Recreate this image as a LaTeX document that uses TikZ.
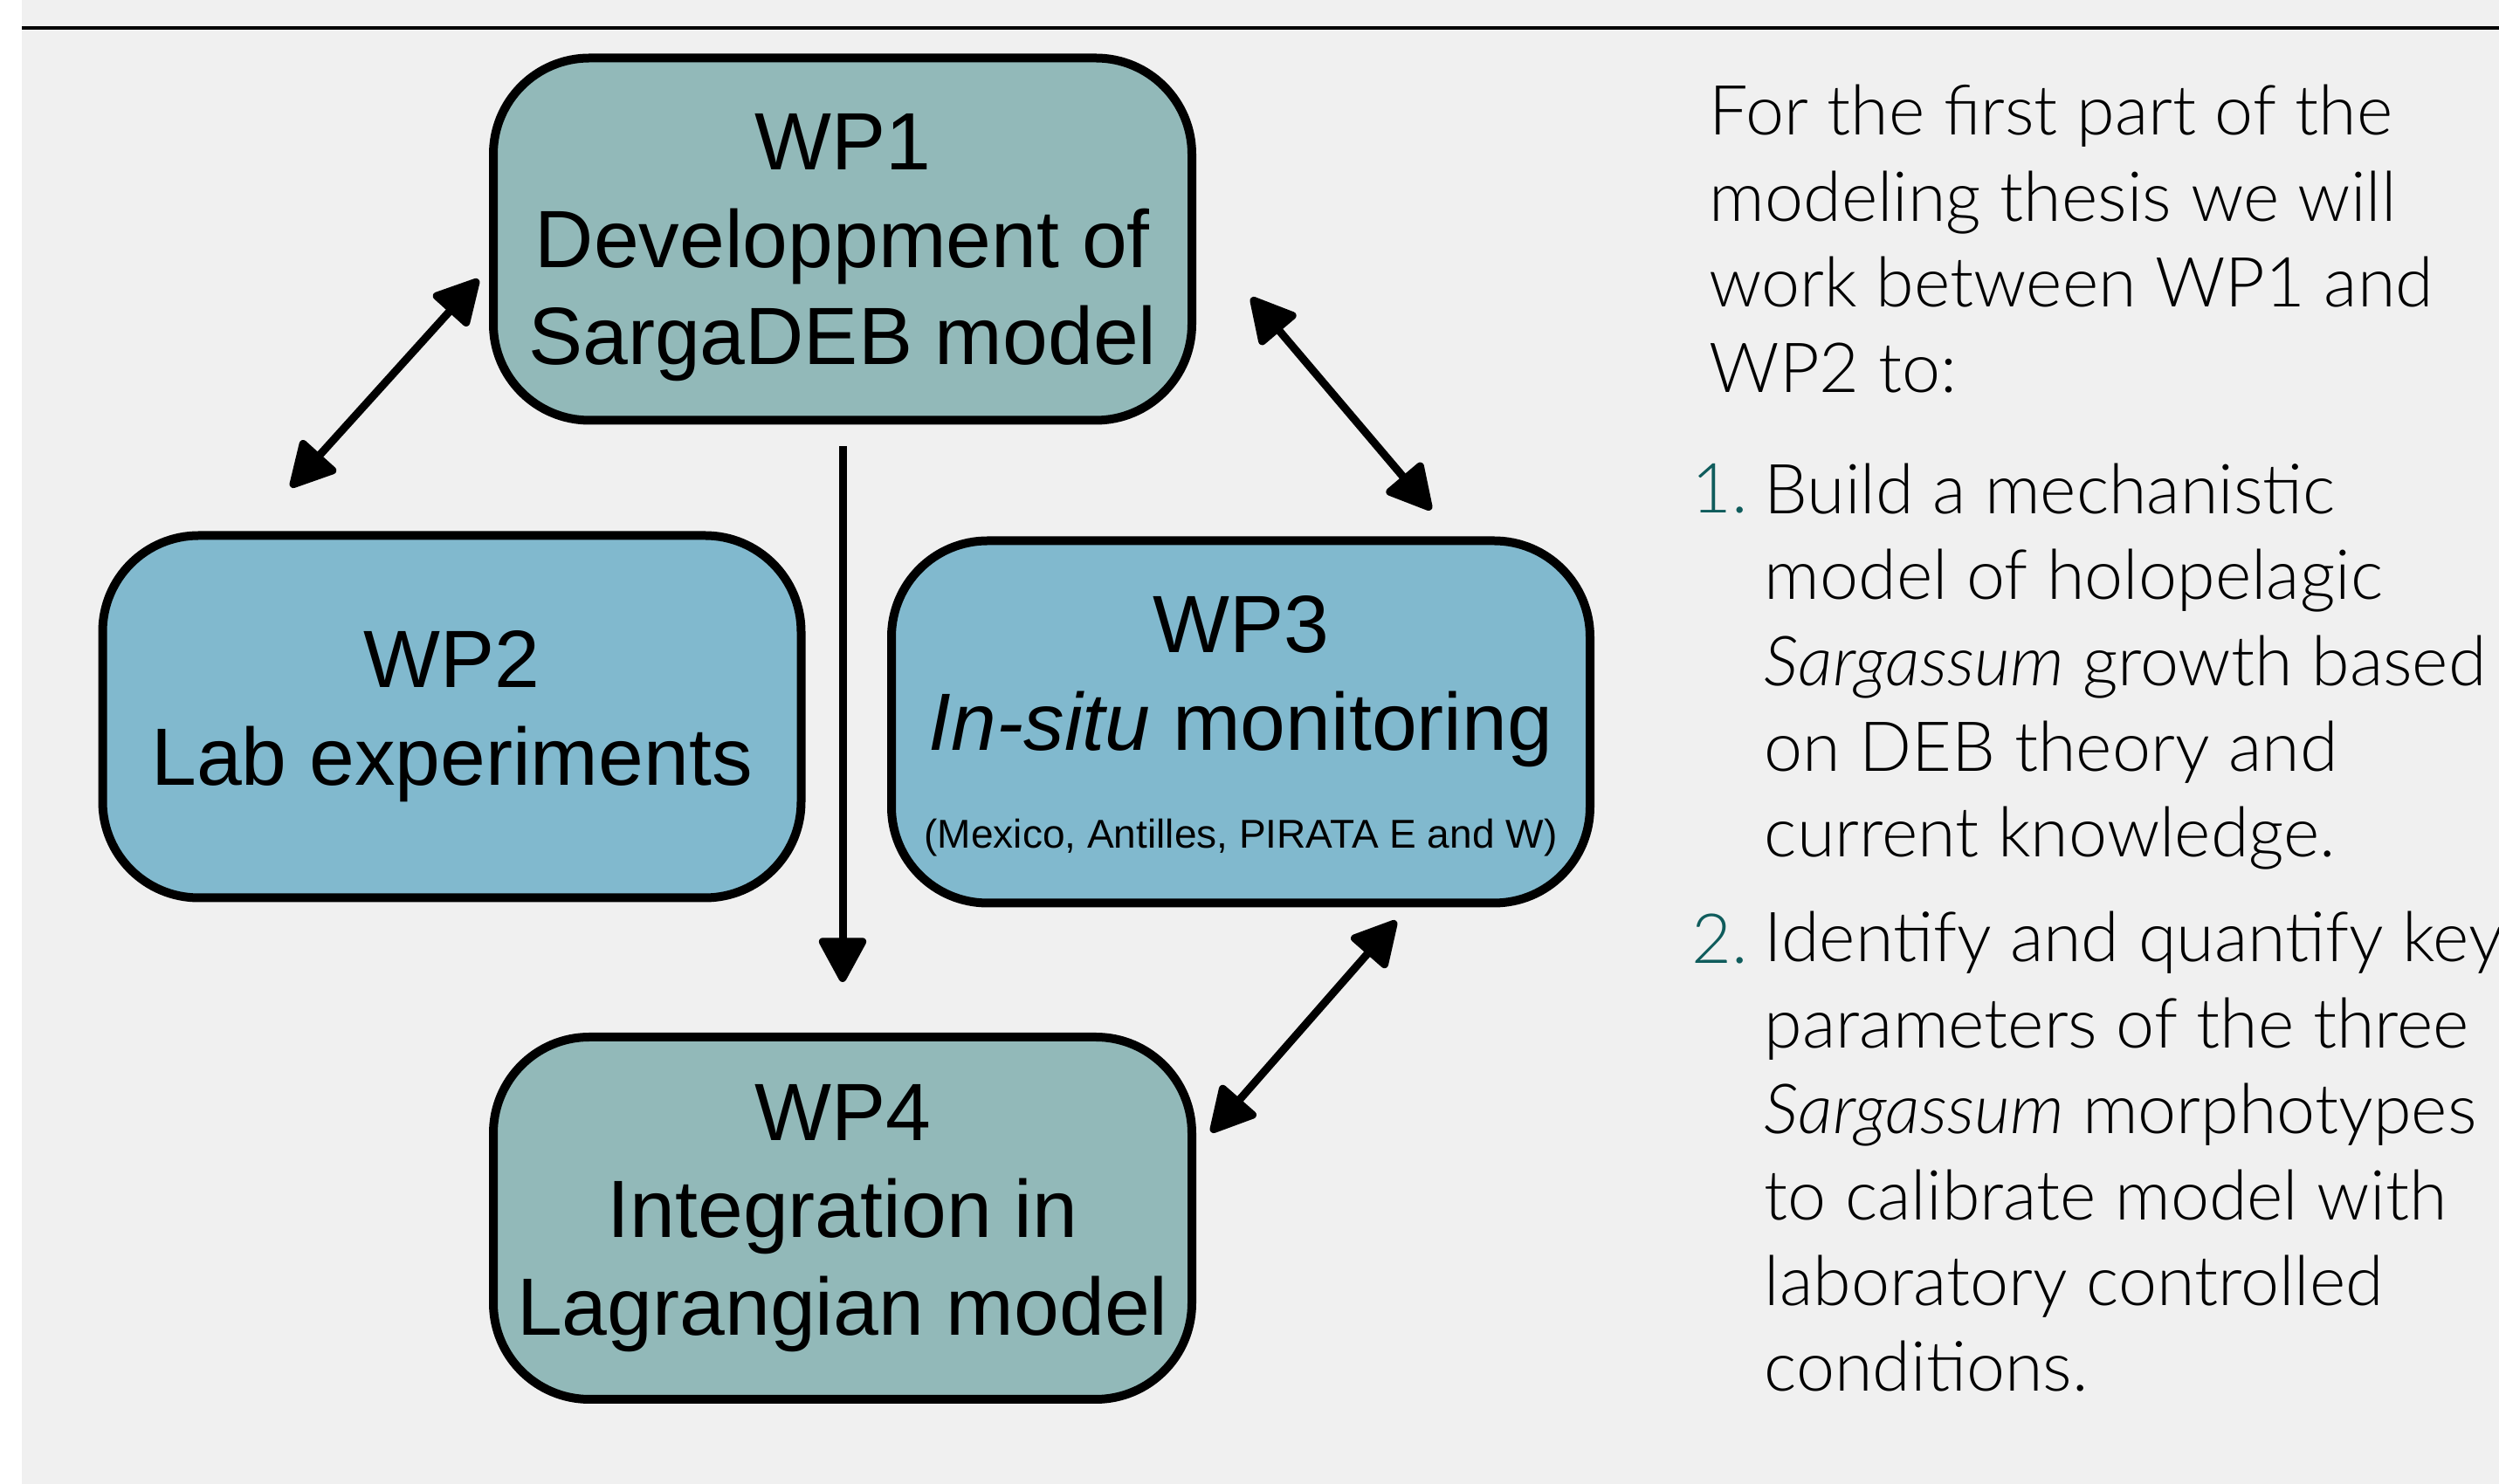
\documentclass[tikz,border=0pt]{standalone}
\usepackage{fontspec}
\setmainfont{Lato}[UprightFont={* Light},ItalicFont={* Light Italic}]
\newfontfamily\boxfont{Liberation Sans}
\usetikzlibrary{arrows.meta}
\definecolor{wpteal}{HTML}{92B9B9}
\definecolor{wpblue}{HTML}{81B9CE}
\definecolor{bggray}{HTML}{F0F0F0}
\definecolor{numteal}{HTML}{0F5C5C}

\begin{document}
\begin{tikzpicture}[
	wpbox/.style={draw=black, line width=1mm, rounded corners=1.1cm, minimum width=8cm, minimum height=4.15cm, inner sep=0pt, align=center, font=\boxfont\fontsize{26.5}{31.8}\selectfont},
	link/.style={line width=0.9mm, {Triangle[length=5.6mm,width=5.8mm,round]}-{Triangle[length=5.6mm,width=5.8mm,round]}},
	listtext/.style={anchor=base west, align=left, inner sep=0pt, font=\fontsize{22.5}{28}\selectfont}
	]
				\fill[white] (0,0) rectangle (28.62,17);
				\fill[bggray] (0.25,0) rectangle (28.62,17);
				\useasboundingbox (0,0) rectangle (28.62,17);
				\draw[line width=0.4mm] (0.25,16.68) -- (28.62,16.68);
				% work packages
				\node[wpbox, fill=wpteal, text depth=0pt] (wp1) at (9.65,14.26) {WP1\\Developpment of\\SargaDEB model};
				\node[wpbox, fill=wpblue] (wp2) at (5.175,8.79) {WP2\\Lab experiments};
				\node[wpbox, fill=wpblue, text depth=0pt] (wp3) at (14.21,8.73) {WP3\\\textit{In-situ} monitoring\\{\fontsize{13.1}{31.8}\selectfont (Mexico, Antilles, PIRATA E and W)}};
				\node[wpbox, fill=wpteal] (wp4) at (9.65,3.045) {WP4\\Integration in\\Lagrangian model};
				% arrow ends
				\coordinate (e12a) at (5.48,13.80);
				\coordinate (e12b) at (3.33,11.42);
				\coordinate (e13a) at (14.33,13.59);
				\coordinate (e13b) at (16.39,11.16);
				\coordinate (e14a) at (9.65,11.89);
				\coordinate (e14b) at (9.65,5.75);
				\coordinate (e34a) at (15.99,6.45);
				\coordinate (e34b) at (13.87,4.03);
				\draw[link] (e12a) -- (e12b);
				\draw[link] (e13a) -- (e13b);
				\draw[link] (e34a) -- (e34b);
				\draw[line width=0.9mm, -{Triangle[length=5.6mm,width=5.8mm,round]}] (e14a) -- (e14b);
				% text on the right (base = last line)
				\node[listtext] (intro) at (19.57,12.50) {For the first part of the\\modeling thesis we will\\work between WP1 and\\WP2 to:};
				\node[listtext, text=numteal] (num1) at (19.37,11.12) {1.};
				\node[listtext] (item1) at (20.20,7.18) {Build a mechanistic\\model of holopelagic\\\textit{Sargassum} growth based\\on DEB theory and\\current knowledge.};
				\node[listtext, text=numteal] (num2) at (19.37,5.96) {2.};
				\node[listtext] (item2) at (20.20,1.06) {Identify and quantify key\\parameters of the three\\\textit{Sargassum} morphotypes\\to calibrate model with\\laboratory controlled\\conditions.};
			\end{tikzpicture}
\end{document}
